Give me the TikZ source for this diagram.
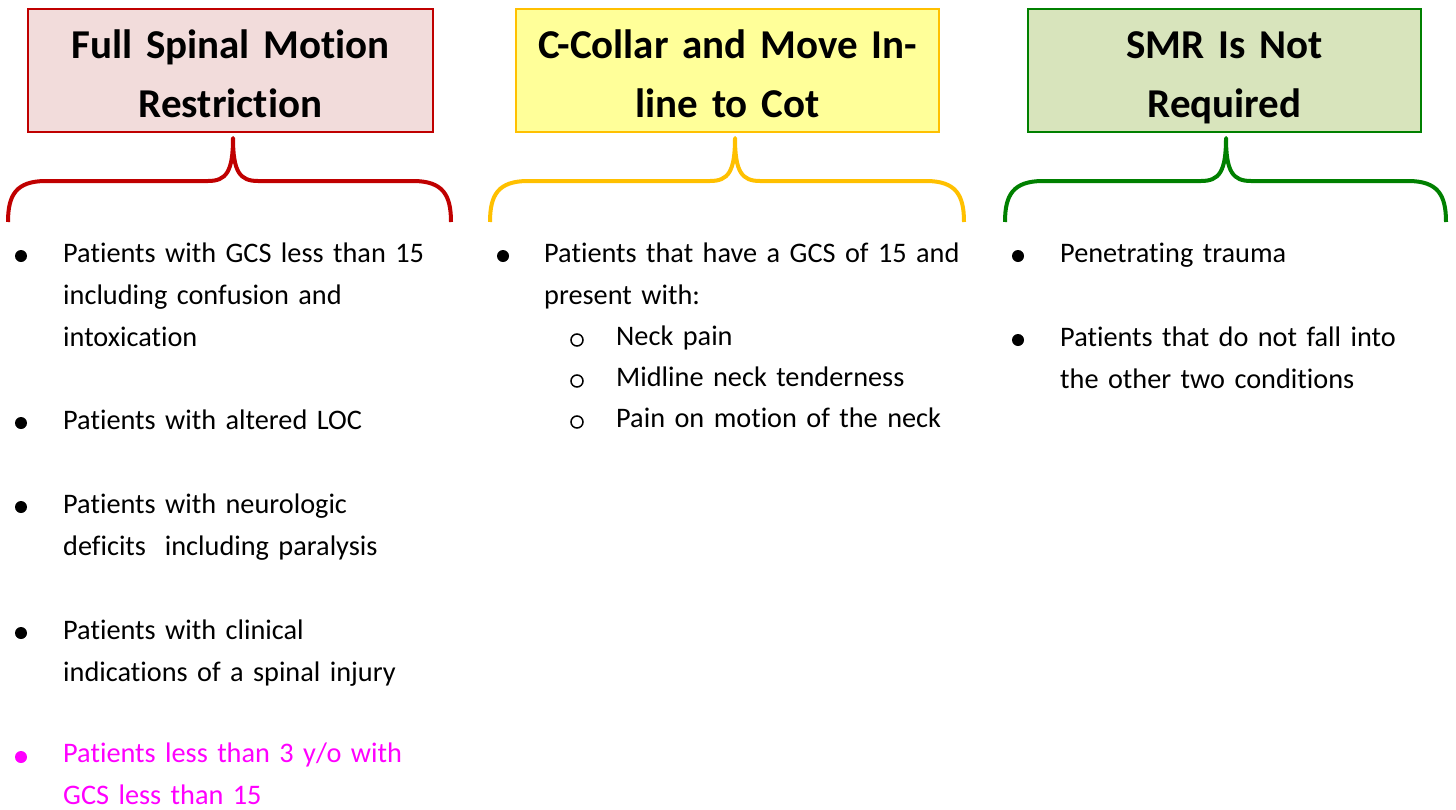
\documentclass[tikz,border=0pt]{standalone}
\usepackage{fontspec}
\setmainfont{Carlito}[Ligatures={NoCommon}]
\definecolor{redB}{HTML}{C00000}
\definecolor{redF}{HTML}{F2DCDB}
\definecolor{yelB}{HTML}{FFC000}
\definecolor{yelF}{HTML}{FFFF99}
\definecolor{grnB}{HTML}{008000}
\definecolor{grnF}{HTML}{D8E4BC}
\definecolor{mag}{HTML}{FF00FF}
\begin{document}
\begin{tikzpicture}[x=1pt,y=-1pt,
  hbox/.style={draw, line width=2pt, rectangle, inner sep=0pt},
  htext/.style={anchor=base, text width=400pt, align=center, inner sep=0pt,
     font=\fontsize{41}{59}\selectfont\bfseries},
  btext/.style={anchor=base west, text width=600pt, align=left, inner sep=0pt,
     font=\fontsize{28.3}{42}\selectfont},
  bul/.style={circle, fill=black, minimum size=12pt, inner sep=0pt},
  subbul/.style={circle, draw=black, line width=1.5pt, minimum size=12pt, inner sep=0pt},
  brc/.style={line width=4pt, line join=round, line cap=butt}]
\useasboundingbox (0,0) rectangle (1456,809);
% header boxes
\node[hbox, draw=redB, fill=redF, minimum width=405pt, minimum height=123pt] (h1) at (230.5,70.5) {};
\node[hbox, draw=yelB, fill=yelF, minimum width=423pt, minimum height=123pt] (h2) at (727.5,70.5) {};
\node[hbox, draw=grnB, fill=grnF, minimum width=393pt, minimum height=123pt] (h3) at (1224.5,70.5) {};
\node[htext] (t1) at (230.5,58) {Full Spinal Motion\\Restriction};
\node[htext] (t2) at (727.5,58) {C-Collar and Move In-\\line to Cot};
\node[htext] (t3) at (1224.5,58) {SMR Is Not\\Required};
% braces
\draw[brc, redB] (8,222) .. controls (8,195) and (16,181) .. (46,181) -- (208,181)
  .. controls (226,181) and (233,172) .. (233,138)
  .. controls (233,172) and (240,181) .. (258,181) -- (413,181)
  .. controls (443,181) and (451,195) .. (451,222);
\draw[brc, yelB] (490,222) .. controls (490,195) and (498,181) .. (528,181) -- (710,181)
  .. controls (728,181) and (735,172) .. (735,138)
  .. controls (735,172) and (742,181) .. (760,181) -- (926,181)
  .. controls (956,181) and (964,195) .. (964,222);
\draw[brc, grnB] (1005,222) .. controls (1005,195) and (1013,181) .. (1043,181) -- (1201,181)
  .. controls (1219,181) and (1226,172) .. (1226,138)
  .. controls (1226,172) and (1233,181) .. (1251,181) -- (1408,181)
  .. controls (1438,181) and (1446,195) .. (1446,222);
% column 1
\node[bul] (b11) at (21,256) {};
\node[btext] (l11) at (63,262) {Patients with GCS less than 15\\including confusion and\\intoxication};
\node[bul] (b12) at (21,423) {};
\node[btext] (l12) at (63,429) {Patients with altered LOC};
\node[bul] (b13) at (21,507) {};
\node[btext] (l13) at (63,513) {Patients with neurologic\\deficits\ \ including paralysis};
\node[bul] (b14) at (21,633) {};
\node[btext] (l14) at (63,639) {Patients with clinical\\indications of a spinal injury};
\node[bul, fill=mag] (b15) at (21,757) {};
\node[btext, text=mag] (l15) at (63,762) {Patients less than 3 y/o with\\GCS less than 15};
% column 2
\node[bul] (b21) at (503,256) {};
\node[btext] (l21) at (544,262) {Patients that have a GCS of 15 and\\present with:};
\node[subbul] (s21) at (577,340) {};
\node[btext] (m21) at (616,345) {Neck pain};
\node[subbul] (s22) at (577,381) {};
\node[btext] (m22) at (616,386) {Midline neck tenderness};
\node[subbul] (s23) at (577,422) {};
\node[btext] (m23) at (616,427) {Pain on motion of the neck};
% column 3
\node[bul] (b31) at (1018,256) {};
\node[btext] (l31) at (1060,262) {Penetrating trauma};
\node[bul] (b32) at (1018,340) {};
\node[btext] (l32) at (1060,346) {Patients that do not fall into\\the other two conditions};
\end{tikzpicture}
\end{document}
